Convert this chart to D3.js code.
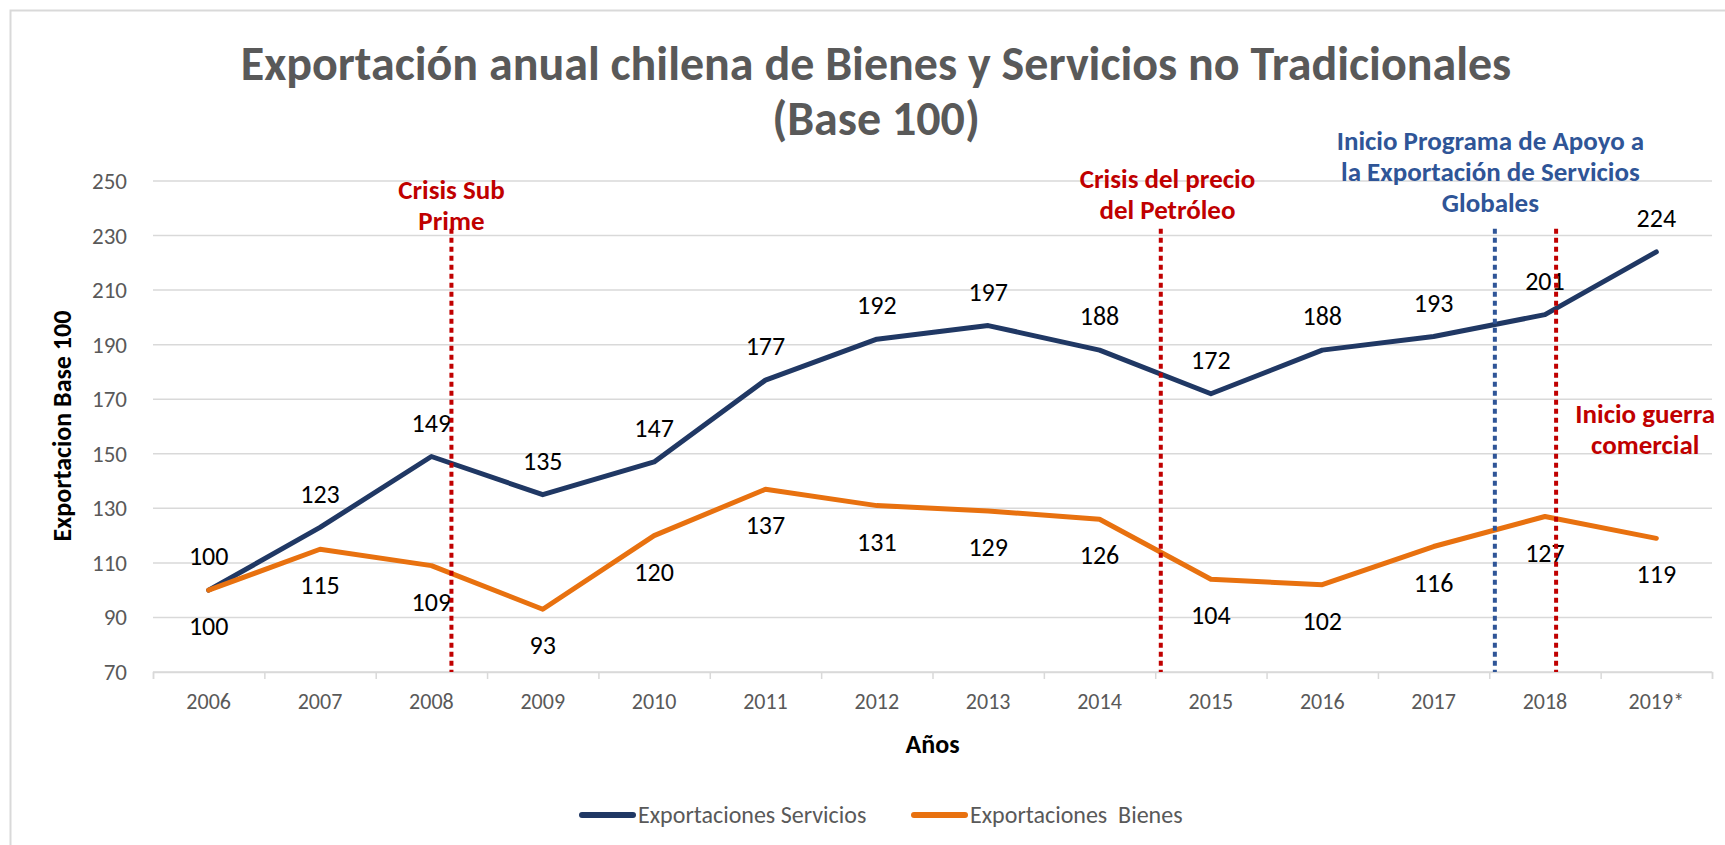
<!DOCTYPE html>
<html>
<head>
<meta charset="utf-8">
<script src="https://cdn.jsdelivr.net/npm/d3@7"></script>
<style>
    body { margin: 0; background: #fff; }
    text { font-family: Carlito, Calibri, Lato, sans-serif; }
</style>
</head>
<body>
<div id="chart"></div>
<script>
const years = ['2006', '2007', '2008', '2009', '2010', '2011', '2012', '2013', '2014', '2015', '2016', '2017', '2018', '2019*']
const servicios = [100, 123, 149, 135, 147, 177, 192, 197, 188, 172, 188, 193, 201, 224]
const bienes = [100, 115, 109, 93, 120, 137, 131, 129, 126, 104, 102, 116, 127, 119]
const yTicks = [70, 90, 110, 130, 150, 170, 190, 210, 230, 250]

const series = [
    { key: 'servicios', label: 'Exportaciones Servicios', values: servicios, color: '#203864', labelPos: 'above' },
    { key: 'bienes', label: 'Exportaciones  Bienes', values: bienes, color: '#e8710f', labelPos: 'below' },
]

// event markers, "at" is in category units (0 = 2006)
const markers = [
    { at: 2.18, color: '#c00000', lines: ['Crisis Sub', 'Prime'], textAt: 2.18, textY: 247 },
    { at: 8.55, color: '#c00000', lines: ['Crisis del precio', 'del Petróleo'], textAt: 8.61, textY: 251 },
    { at: 11.55, color: '#2f5597', lines: ['Inicio Programa de Apoyo a', 'la Exportación de Servicios', 'Globales'], textAt: 11.51, textY: 264.7 },
    { at: 12.1, color: '#c00000', lines: ['Inicio guerra', 'comercial'], textAt: 12.9, textY: 164.6 },
]

const render = () => {
    const width = 1725,
        height = 845,
        plot = { left: 153, right: 1712, top: 181, bottom: 672 };

    const svg = d3.select('#chart').append('svg')
        .attr('width', width)
        .attr('height', height)

    // chart frame
    svg.append('rect')
        .attr('x', 10.5).attr('y', 10.5)
        .attr('width', width).attr('height', height)
        .attr('fill', '#fff')
        .attr('stroke', '#d9d9d9')
        .attr('stroke-width', 2)

    const x = d3.scalePoint()
        .domain(years)
        .range([plot.left, plot.right])
        .padding(0.5);

    const xPos = d3.scaleLinear()
        .domain([-0.5, years.length - 0.5])
        .range([plot.left, plot.right]);

    const y = d3.scaleLinear()
        .domain([70, 250])
        .range([plot.bottom, plot.top]);

    // title
    const title = svg.append('text')
        .attr('text-anchor', 'middle')
        .attr('fill', '#595959')
        .style('font-size', '48px')
        .style('font-weight', 'bold')
    title.append('tspan').attr('x', 876).attr('y', 80).text('Exportación anual chilena de Bienes y Servicios no Tradicionales')
    title.append('tspan').attr('x', 876).attr('y', 135).text('(Base 100)')

    // gridlines
    svg.append('g')
        .selectAll('line')
        .data(yTicks)
        .enter().append('line')
        .attr('x1', plot.left)
        .attr('x2', plot.right)
        .attr('y1', d => y(d))
        .attr('y2', d => y(d))
        .attr('stroke', '#d9d9d9')
        .attr('stroke-width', 1.5)

    // y axis labels
    svg.append('g')
        .selectAll('text')
        .data(yTicks)
        .enter().append('text')
        .attr('x', 127)
        .attr('y', d => y(d))
        .attr('dy', '0.35em')
        .attr('text-anchor', 'end')
        .attr('fill', '#595959')
        .style('font-size', '23px')
        .text(d => d)

    // x axis with ticks between categories
    const xAxis = svg.append('g')
        .attr('transform', `translate(0,${plot.bottom})`)
        .call(d3.axisBottom(xPos).tickValues(d3.range(-0.5, years.length, 1)).tickSize(7).tickFormat(''))
    xAxis.selectAll('line, path').attr('stroke', '#d9d9d9').attr('stroke-width', 1.5)

    svg.append('g')
        .selectAll('text')
        .data(years)
        .enter().append('text')
        .attr('x', d => x(d))
        .attr('y', 701)
        .attr('dy', '0.35em')
        .attr('text-anchor', 'middle')
        .attr('fill', '#595959')
        .style('font-size', '22px')
        .text(d => d)

    // axis titles
    svg.append('text')
        .attr('x', (plot.left + plot.right) / 2)
        .attr('y', 744)
        .attr('dy', '0.35em')
        .attr('text-anchor', 'middle')
        .style('font-size', '26px')
        .style('font-weight', 'bold')
        .text('Años')

    svg.append('text')
        .attr('transform', `translate(62,426) rotate(-90)`)
        .attr('dy', '0.35em')
        .attr('text-anchor', 'middle')
        .style('font-size', '26px')
        .style('font-weight', 'bold')
        .text('Exportacion Base 100')

    // lines
    const line = d3.line()
        .x((d, i) => x(years[i]))
        .y(d => y(d));

    svg.append('g')
        .selectAll('path')
        .data(series)
        .enter().append('path')
        .attr('d', d => line(d.values))
        .attr('fill', 'none')
        .attr('stroke', d => d.color)
        .attr('stroke-width', 5)
        .attr('stroke-linejoin', 'round')
        .attr('stroke-linecap', 'round')

    // data labels
    series.forEach(s => {
        svg.append('g')
            .selectAll('text')
            .data(s.values)
            .enter().append('text')
            .attr('x', (d, i) => x(years[i]))
            .attr('y', d => y(d) + (s.labelPos === 'above' ? -34 : 36))
            .attr('dy', '0.35em')
            .attr('text-anchor', 'middle')
            .attr('fill', '#000')
            .style('font-size', '26px')
            .text(d => d)
    })

    // event markers
    const mk = svg.append('g')
        .selectAll('g')
        .data(markers)
        .enter().append('g')

    mk.append('line')
        .attr('x1', d => xPos(d.at))
        .attr('x2', d => xPos(d.at))
        .attr('y1', y(232.5))
        .attr('y2', plot.bottom)
        .attr('stroke', d => d.color)
        .attr('stroke-width', 4)
        .attr('stroke-dasharray', '5,4')

    mk.append('text')
        .attr('text-anchor', 'middle')
        .attr('fill', d => d.color)
        .style('font-size', '27px')
        .style('font-weight', 'bold')
        .each(function (d) {
            d3.select(this).selectAll('tspan')
                .data(d.lines)
                .enter().append('tspan')
                .attr('x', xPos(d.textAt))
                .attr('y', (l, i) => y(d.textY) + i * 31)
                .attr('dy', '0.35em')
                .text(l => l)
        })

    // legend
    const legendItems = [
        { s: series[0], x0: 580 },
        { s: series[1], x0: 912 },
    ]
    const legend = svg.append('g')
        .selectAll('g')
        .data(legendItems)
        .enter().append('g')
        .attr('transform', d => `translate(${d.x0},815)`)

    legend.append('line')
        .attr('x1', 2).attr('x2', 53)
        .attr('stroke', d => d.s.color)
        .attr('stroke-width', 6)
        .attr('stroke-linecap', 'round')

    legend.append('text')
        .attr('x', 58)
        .attr('dy', '0.35em')
        .attr('fill', '#595959')
        .style('font-size', '24px')
        .style('white-space', 'pre')
        .text(d => d.s.label)
}

render()
</script>
</body>
</html>
